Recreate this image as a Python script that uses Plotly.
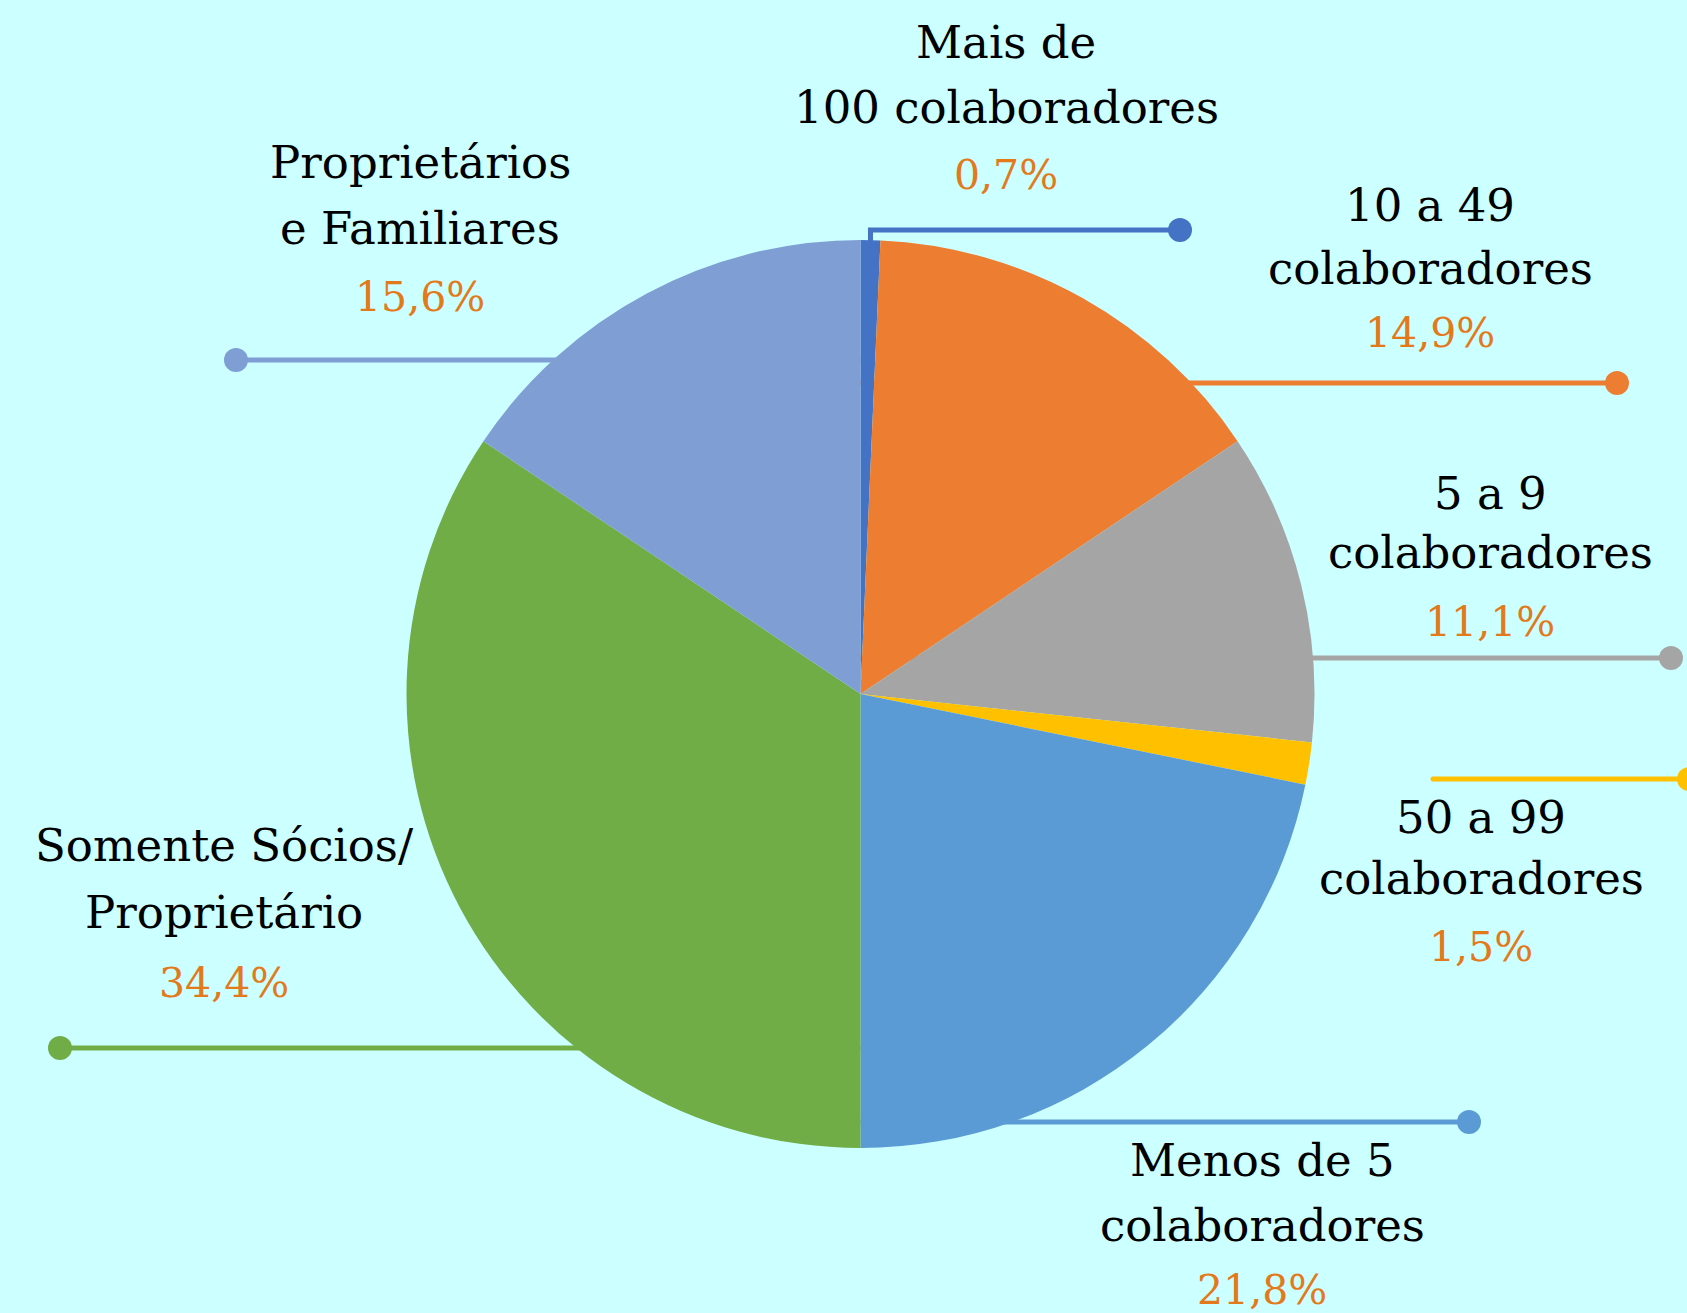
import math
import plotly.graph_objects as go

# ---------------- data ----------------
labels = [
    "Mais de<br>100 colaboradores",
    "10 a 49<br>colaboradores",
    "5 a 9<br>colaboradores",
    "50 a 99<br>colaboradores",
    "Menos de 5<br>colaboradores",
    "Somente Sócios/<br>Proprietário",
    "Proprietários<br>e Familiares",
]
values = [0.7, 14.9, 11.1, 1.5, 21.8, 34.4, 15.6]
colors = ["#4472C4", "#ED7D31", "#A5A5A5", "#FFC000", "#5B9BD5", "#70AD47", "#7F9ED4"]

# ---------------- layout (pixel positions) ----------------
W, H = 1687, 1313
CX, CY, R = 860.5, 694, 454
BG = "#CCFFFF"
PCT_COLOR = "#E2791B"
FONT = "DejaVu Serif"

label_x = [1006, 1430, 1490, 1481, 1262, 224, 420]
label_y1 = [42, 205, 493, 817, 1160, 845, 162]
label_y2 = [107, 268, 552, 878, 1225, 912, 228]
pct_y = [175, 333, 622, 947, 1290, 983, 297]

leader_y = [230, 383, 658, 779, 1122, 1048, 360]
dot_x = [1180, 1617, 1671, 1689, 1469, 60, 236]
line_start_x = [None, None, None, 1433, None, None, None]

fig = go.Figure()

fig.add_trace(go.Pie(
    labels=[l.replace("<br>", " ") for l in labels],
    values=values,
    sort=False,
    direction="clockwise",
    rotation=0,
    marker=dict(colors=colors, line=dict(width=0)),
    textinfo="none",
    hoverinfo="label+percent",
    showlegend=False,
    domain=dict(x=[(CX - R) / W, (CX + R) / W], y=[(H - CY - R) / H, (H - CY + R) / H]),
))

# leader lines (drawn below the pie)
total = sum(values)
cum = 0
for i, v in enumerate(values):
    mid = (cum + v / 2) / total * 360
    cum += v
    c = colors[i]
    if i == 0:
        sx = CX + R * math.sin(math.radians(mid))
        xs = [sx, sx, dot_x[i]]
        ys = [CY - R + 20, leader_y[i], leader_y[i]]
    else:
        sx = line_start_x[i] if line_start_x[i] is not None else CX
        xs = [sx, dot_x[i]]
        ys = [leader_y[i], leader_y[i]]
    fig.add_trace(go.Scatter(x=xs, y=ys, mode="lines", line=dict(color=c, width=5),
                             hoverinfo="skip", showlegend=False))
    if line_start_x[i] is not None:
        fig.add_trace(go.Scatter(x=[line_start_x[i]], y=[leader_y[i]], mode="markers",
                                 marker=dict(color=c, size=5), hoverinfo="skip", showlegend=False))
    fig.add_trace(go.Scatter(x=[dot_x[i]], y=[leader_y[i]], mode="markers",
                             marker=dict(color=c, size=24, line=dict(width=0)),
                             hoverinfo="skip", showlegend=False))

# labels
annotations = []
for i, lab in enumerate(labels):
    l1, l2 = lab.split("<br>")
    for txt, yy in ((l1, label_y1[i]), (l2, label_y2[i])):
        annotations.append(dict(x=label_x[i], y=yy, xref="x", yref="y", text=txt,
                                showarrow=False, xanchor="center", yanchor="middle",
                                font=dict(family=FONT, size=45, color="#000000")))
    pct = f"{values[i]:.1f}%".replace(".", ",")
    annotations.append(dict(x=label_x[i], y=pct_y[i], xref="x", yref="y", text=pct,
                            showarrow=False, xanchor="center", yanchor="middle",
                            font=dict(family=FONT, size=41, color=PCT_COLOR)))

fig.update_layout(
    width=W, height=H,
    margin=dict(l=0, r=0, t=0, b=0),
    paper_bgcolor=BG, plot_bgcolor="rgba(0,0,0,0)",
    xaxis=dict(range=[0, W], visible=False, fixedrange=True, domain=[0, 1]),
    yaxis=dict(range=[H, 0], visible=False, fixedrange=True, domain=[0, 1]),
    annotations=annotations,
    showlegend=False,
)

fig.write_html(
    "out.html",
    config={"displayModeBar": False},
    post_script="document.body.style.margin='0';document.body.style.overflow='hidden';",
)
